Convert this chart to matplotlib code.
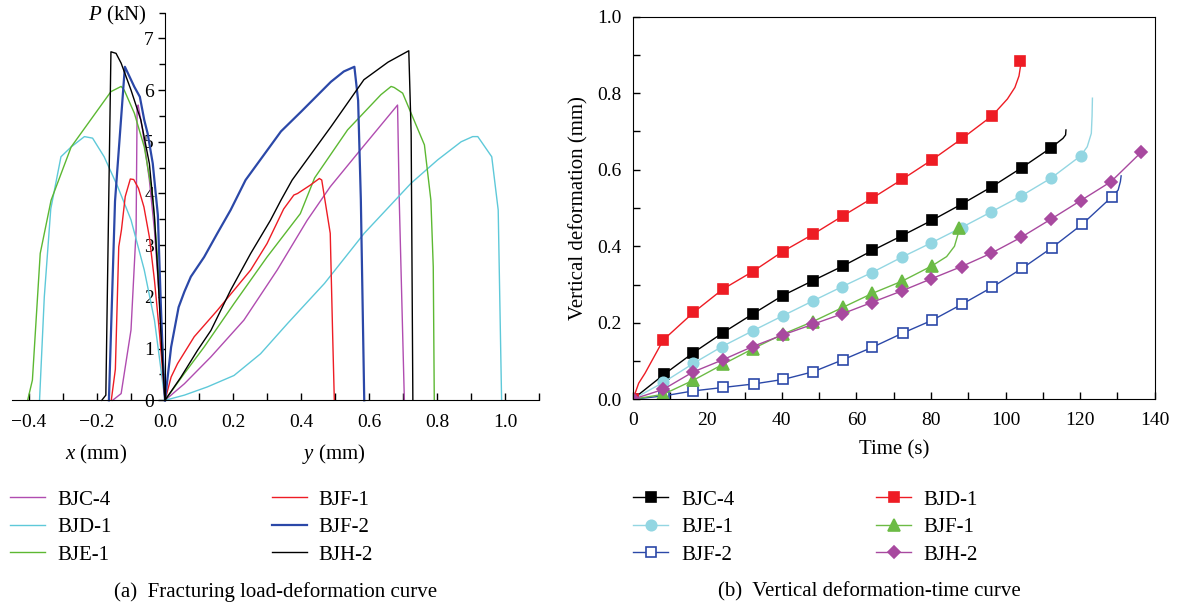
import matplotlib
matplotlib.use("Agg")
import matplotlib.pyplot as plt
from matplotlib.lines import Line2D
from matplotlib.ticker import MultipleLocator

plt.rcParams['font.family'] = ['Liberation Serif', 'DejaVu Serif']
plt.rcParams['mathtext.fontset'] = 'custom'
plt.rcParams['mathtext.rm'] = 'Liberation Serif'
plt.rcParams['mathtext.it'] = 'Liberation Serif:italic'

# ---- (a) load-deformation: x side (negative) and y side, P in kN ----
names_a = ["BJC-4", "BJD-1", "BJE-1", "BJF-1", "BJF-2", "BJH-2"]
colors_a = ["#b04cb0", "#5ec9d9", "#5cb832", "#ee1c24", "#2b48a8", "#000000"]

bjc4_x = [-0.154, -0.129, -0.100, -0.085, -0.082, -0.079, -0.066, -0.046, -0.031, -0.017, 0.0]
bjc4_xp = [0, 0.13, 1.36, 3.29, 5.68, 5.71, 5.23, 4.26, 3.29, 2.0, 0]
bjc4_y = [0, 0.057, 0.135, 0.232, 0.330, 0.418, 0.486, 0.567, 0.684, 0.689, 0.704]
bjc4_yp = [0, 0.32, 0.84, 1.55, 2.52, 3.48, 4.13, 4.78, 5.71, 3.87, 0]

bjd1_x = [-0.369, -0.355, -0.336, -0.306, -0.276, -0.237, -0.213, -0.179, -0.139, -0.100, -0.061, -0.031, 0.0]
bjd1_xp = [0, 2.0, 3.70, 4.71, 4.90, 5.10, 5.07, 4.71, 4.13, 3.49, 2.52, 1.55, 0]
bjd1_y = [0, 0.057, 0.125, 0.203, 0.281, 0.361, 0.469, 0.586, 0.724, 0.802, 0.871, 0.905, 0.920, 0.961, 0.980, 0.990]
bjd1_yp = [0, 0.10, 0.26, 0.48, 0.90, 1.49, 2.26, 3.23, 4.20, 4.65, 5.00, 5.10, 5.10, 4.71, 3.68, 0]

bje1_x = [-0.404, -0.390, -0.367, -0.335, -0.276, -0.159, -0.129, -0.120, -0.090, -0.061, -0.036, -0.021, -0.007, 0.0]
bje1_xp = [0, 0.39, 2.84, 3.87, 4.90, 5.97, 6.07, 6.00, 5.55, 4.90, 3.94, 2.64, 1.03, 0]
bje1_y = [0, 0.057, 0.115, 0.203, 0.300, 0.398, 0.440, 0.537, 0.635, 0.665, 0.674, 0.699, 0.763, 0.782, 0.789, 0.792]
bje1_yp = [0, 0.52, 1.03, 1.87, 2.77, 3.61, 4.30, 5.23, 5.91, 6.07, 6.05, 5.94, 4.94, 3.87, 2.58, 0]

bjf1_x = [-0.158, -0.146, -0.136, -0.128, -0.117, -0.102, -0.092, -0.078, -0.062, -0.046, -0.031, -0.017, 0.0]
bjf1_xp = [0, 0.6, 2.97, 3.30, 3.94, 4.28, 4.27, 4.10, 3.74, 3.16, 2.32, 1.36, 0]
bjf1_y = [0, 0.018, 0.037, 0.086, 0.154, 0.203, 0.252, 0.300, 0.349, 0.379, 0.390, 0.427, 0.454, 0.461, 0.486, 0.493, 0.498]
bjf1_yp = [0, 0.45, 0.71, 1.23, 1.74, 2.13, 2.52, 3.03, 3.70, 3.97, 4.00, 4.16, 4.29, 4.26, 3.23, 1.29, 0]

bjf2_x = [-0.165, -0.147, -0.118, -0.090, -0.074, -0.061, -0.051, -0.036, -0.021, -0.012, -0.006, 0.0]
bjf2_xp = [0, 3.85, 6.45, 6.06, 5.87, 5.42, 5.16, 4.58, 3.58, 1.8, 0.8, 0]
bjf2_y = [0, 0.018, 0.040, 0.057, 0.076, 0.115, 0.154, 0.193, 0.237, 0.341, 0.400, 0.488, 0.526, 0.557, 0.568, 0.576, 0.581, 0.586]
bjf2_yp = [0, 1.03, 1.80, 2.10, 2.39, 2.77, 3.23, 3.68, 4.26, 5.20, 5.58, 6.16, 6.36, 6.45, 5.80, 3.88, 1.94, 0]

bjh2_x = [-0.186, -0.174, -0.159, -0.144, -0.129, -0.100, -0.071, -0.046, -0.031, -0.020, -0.010, 0.0]
bjh2_xp = [0, 0.10, 6.74, 6.71, 6.52, 6.00, 5.42, 4.58, 3.55, 2.32, 1.03, 0]
bjh2_y = [0, 0.047, 0.096, 0.135, 0.193, 0.252, 0.310, 0.341, 0.374, 0.488, 0.585, 0.656, 0.717, 0.724, 0.729]
bjh2_yp = [0, 0.45, 0.97, 1.35, 2.13, 2.84, 3.48, 3.87, 4.26, 5.29, 6.20, 6.54, 6.76, 5.16, 0]

curves_a = [
    (bjc4_x, bjc4_xp, bjc4_y, bjc4_yp),
    (bjd1_x, bjd1_xp, bjd1_y, bjd1_yp),
    (bje1_x, bje1_xp, bje1_y, bje1_yp),
    (bjf1_x, bjf1_xp, bjf1_y, bjf1_yp),
    (bjf2_x, bjf2_xp, bjf2_y, bjf2_yp),
    (bjh2_x, bjh2_xp, bjh2_y, bjh2_yp),
]

# ---- (b) vertical deformation vs time: marker points + extra curve points ----
bjc4_t = [0, 8.4, 16.3, 24.2, 32.2, 40.2, 48.3, 56.3, 64.3, 72.3, 80.3, 88.4, 96.4, 104.3, 112.3]
bjc4_v = [0, 0.065, 0.122, 0.174, 0.223, 0.271, 0.310, 0.348, 0.389, 0.428, 0.468, 0.511, 0.556, 0.605, 0.658]
bjc4_et = [113.7, 115.4, 116.1, 116.2]
bjc4_ev = [0.669, 0.682, 0.691, 0.704]

bjd1_t = [0, 8.2, 16.3, 24.2, 32.2, 40.2, 48.3, 56.3, 64.3, 72.3, 80.3, 88.4, 96.4, 104.0]
bjd1_v = [0, 0.155, 0.227, 0.288, 0.334, 0.386, 0.431, 0.479, 0.526, 0.575, 0.626, 0.682, 0.741, 0.885]
bjd1_et = [0.8, 1.6, 3.3, 100.5, 102.5, 103.6, 104.0]
bjd1_ev = [0.020, 0.042, 0.068, 0.785, 0.815, 0.845, 0.870]

bje1_t = [0, 8.2, 16.3, 24.0, 32.2, 40.2, 48.3, 56.1, 64.1, 72.1, 80.1, 88.2, 96.2, 104.1, 112.2, 120.1]
bje1_v = [0, 0.044, 0.094, 0.138, 0.179, 0.218, 0.257, 0.294, 0.331, 0.371, 0.409, 0.449, 0.490, 0.531, 0.578, 0.636]
bje1_et = [121.9, 123.0, 123.2, 123.3]
bje1_ev = [0.660, 0.695, 0.740, 0.787]

bjf1_t = [0, 8.2, 16.3, 24.3, 32.2, 40.2, 48.3, 56.3, 64.3, 72.3, 80.3, 87.5]
bjf1_v = [0, 0.013, 0.050, 0.092, 0.132, 0.170, 0.203, 0.240, 0.277, 0.309, 0.349, 0.449]
bjf1_et = [84.2, 86.3, 87.2]
bjf1_ev = [0.373, 0.400, 0.430]

bjf2_t = [0, 8.4, 16.3, 24.3, 32.4, 40.4, 48.4, 56.3, 64.3, 72.4, 80.4, 88.4, 96.4, 104.4, 112.4, 120.5, 128.6]
bjf2_v = [0, 0.009, 0.022, 0.031, 0.040, 0.052, 0.072, 0.103, 0.136, 0.173, 0.207, 0.249, 0.293, 0.342, 0.396, 0.457, 0.530]
bjf2_et = [130.2, 130.8, 131.0]
bjf2_ev = [0.547, 0.569, 0.584]

bjh2_t = [0, 8.2, 16.1, 24.1, 32.2, 40.2, 48.3, 56.1, 64.1, 72.1, 80.1, 88.2, 96.2, 104.1, 112.2, 120.1, 128.3, 136.4]
bjh2_v = [0, 0.026, 0.071, 0.103, 0.138, 0.168, 0.196, 0.223, 0.253, 0.283, 0.315, 0.347, 0.382, 0.423, 0.471, 0.519, 0.569, 0.646]
bjh2_et = []
bjh2_ev = []

# name, colour, marker, facecolour, size, data (legend order: column-wise)
series_b = [
    ("BJC-4", "#000000", "s", "#000000", 7, bjc4_t, bjc4_v, bjc4_et, bjc4_ev),
    ("BJE-1", "#93d6e2", "o", "#93d6e2", 7.5, bje1_t, bje1_v, bje1_et, bje1_ev),
    ("BJF-2", "#2b48a8", "s", "white", 7, bjf2_t, bjf2_v, bjf2_et, bjf2_ev),
    ("BJD-1", "#ee1c24", "s", "#ee1c24", 7.5, bjd1_t, bjd1_v, bjd1_et, bjd1_ev),
    ("BJF-1", "#6cbb45", "^", "#6cbb45", 8, bjf1_t, bjf1_v, bjf1_et, bjf1_ev),
    ("BJH-2", "#a8499f", "D", "#a8499f", 6.5, bjh2_t, bjh2_v, bjh2_et, bjh2_ev),
]

W, H = 1178, 605
fig = plt.figure(figsize=(W / 100, H / 100), dpi=100)

# ================= (a) =================
ax1 = fig.add_axes([12 / W, (H - 400.3) / H, 527 / W, 387.8 / H])
for (xs, xp, ys, yp), c, nm in zip(curves_a, colors_a, names_a):
    lw = 1.6 if nm == "BJF-2" else 1.0
    ax1.plot(xs, xp, color=c, lw=lw, clip_on=False)
    ax1.plot(ys, yp, color=c, lw=lw, clip_on=False, label=nm)
ax1.set_xlim(-0.45, 1.1)
ax1.set_ylim(0, 7.5)
ax1.spines['left'].set_position(('data', 0))
ax1.spines['top'].set_visible(False)
ax1.spines['right'].set_visible(False)
ax1.xaxis.set_major_locator(MultipleLocator(0.2))
ax1.xaxis.set_minor_locator(MultipleLocator(0.1))
ax1.yaxis.set_major_locator(MultipleLocator(1))
ax1.yaxis.set_minor_locator(MultipleLocator(0.5))
ax1.xaxis.set_major_formatter(plt.FuncFormatter(lambda v, p: f"{v:.1f}".replace("-", "\u2212")))
ax1.tick_params(axis='x', which='both', direction='in', length=5, width=1, labelsize=14, pad=10)
ax1.tick_params(axis='y', which='major', direction='out', length=5, width=1, labelsize=14, pad=3)
ax1.tick_params(axis='y', which='minor', direction='out', length=4, width=1)
ax1.patch.set_alpha(0)

fig.text(117 / W, 1 - 15 / H, r"$P$ (kN)", fontsize=15, ha='center', va='center')
fig.text(96 / W, 1 - 454 / H, r"$x$ (mm)", fontsize=15, ha='center', va='center')
fig.text(334 / W, 1 - 454 / H, r"$y$ (mm)", fontsize=15, ha='center', va='center')

h1, l1 = ax1.get_legend_handles_labels()
fig.legend(h1, l1, loc='upper left', bbox_to_anchor=(10 / W, 1 - 490 / H), ncol=2,
           frameon=False, fontsize=15, borderpad=0, borderaxespad=0, handlelength=1.7,
           handletextpad=0.55, columnspacing=7.7, labelspacing=0.38)
fig.text(276 / W, 1 - 592 / H, "(a)  Fracturing load-deformation curve", fontsize=15,
         ha='center', va='center')

# ================= (b) =================
ax2 = fig.add_axes([632.7 / W, (H - 399.3) / H, 522 / W, 382.6 / H])
handles = []
for nm, c, mk, fc, ms, tm, vm, te, ve in series_b:
    pts = sorted(zip(list(tm) + list(te), list(vm) + list(ve)))
    ax2.plot([p[0] for p in pts], [p[1] for p in pts], color=c, lw=1.0)
    ax2.plot(tm, vm, ls='none', marker=mk, ms=ms, mfc=fc, mec=c, mew=1.2)
    handles.append(Line2D([], [], color=c, lw=1.0, marker=mk, ms=ms, mfc=fc, mec=c, mew=1.2))
ax2.set_xlim(0, 140)
ax2.set_ylim(0, 1.0)
ax2.xaxis.set_major_locator(MultipleLocator(20))
ax2.xaxis.set_minor_locator(MultipleLocator(10))
ax2.yaxis.set_major_locator(MultipleLocator(0.2))
ax2.yaxis.set_minor_locator(MultipleLocator(0.1))
ax2.yaxis.set_major_formatter(plt.FuncFormatter(lambda v, p: f"{v:.1f}"))
ax2.tick_params(which='both', direction='in', length=5, width=1, labelsize=14,
                top=False, right=False)
ax2.tick_params(axis='x', pad=9)
ax2.tick_params(axis='y', pad=8)
ax2.set_xlabel("Time (s)", fontsize=15, labelpad=8)
ax2.set_ylabel("Vertical deformation (mm)", fontsize=15, labelpad=6)

fig.legend(handles, [s[0] for s in series_b], loc='upper left', bbox_to_anchor=(633 / W, 1 - 490 / H),
           ncol=2, frameon=False, fontsize=15, borderpad=0, borderaxespad=0, handlelength=1.7,
           handletextpad=0.6, columnspacing=6.8, labelspacing=0.38)
fig.text(869 / W, 1 - 592 / H, "(b)  Vertical deformation-time curve", fontsize=15,
         ha='center', va='center')

fig.savefig("out.png", dpi=100)
